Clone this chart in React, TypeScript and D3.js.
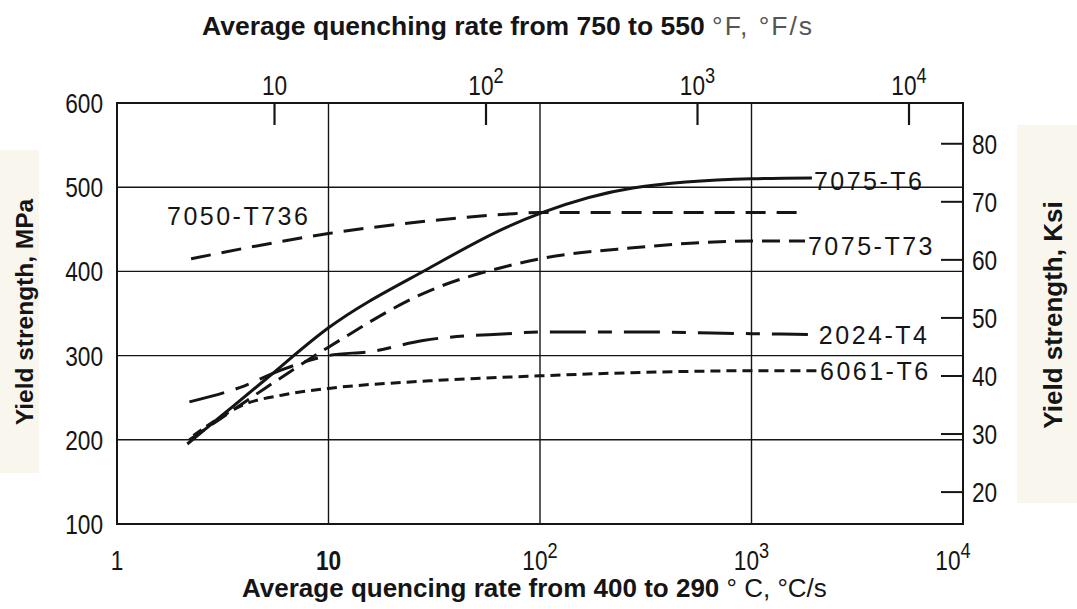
import { useEffect, useRef } from 'react'
import * as d3 from 'd3'

// quench rate, °C/s  ->  yield strength, MPa
const RATE_7075_T6 = [2.15, 3, 5, 10, 30, 69, 103, 275, 1000, 1930]
const YS_7075_T6 = [195, 225, 271, 333, 404, 452, 470, 499, 510, 511]

const RATE_7050_T736 = [2.24, 5, 10, 30, 69, 100, 300, 1000, 1670]
const YS_7050_T736 = [415, 432, 445, 460, 468, 470, 470, 470, 470]

const RATE_7075_T73 = [2.2, 3, 5, 10, 30, 72, 100, 275, 1000, 1790]
const YS_7075_T73 = [200, 223, 261, 310, 377, 407, 415, 428, 436, 436]

const RATE_2024_T4 = [2.2, 3.8, 6, 10, 16, 28, 70, 100, 300, 1000, 1950]
const YS_2024_T4 = [245, 262, 283, 300, 305, 318, 326, 328, 328, 326, 325]

const RATE_6061_T6 = [2.3, 3, 4, 6, 10, 30, 100, 300, 1000, 2040]
const YS_6061_T6 = [205, 225, 242, 253, 261, 270, 276, 280, 282, 282]

const MPA_TICKS = [100, 200, 300, 400, 500, 600]
const KSI_TICKS = [20, 30, 40, 50, 60, 70, 80]
const C_TICKS = [1, 10, 100, 1000, 10000]
const F_TICKS = [10, 100, 1000, 10000]
const GRID_MPA = [200, 300, 400, 500]
const GRID_C = [10, 100, 1000]

const SERIES = [
  { name: '7075-T6', rate: RATE_7075_T6, ys: YS_7075_T6, dash: null, label: 'end', dx: 2, dy: 12 },
  { name: '7050-T736', rate: RATE_7050_T736, ys: YS_7050_T736, dash: '20 11', label: 'top', dx: 0, dy: 0 },
  { name: '7075-T73', rate: RATE_7075_T73, ys: YS_7075_T73, dash: '18 9', label: 'end', dx: 3, dy: 14 },
  { name: '2024-T4', rate: RATE_2024_T4, ys: YS_2024_T4, dash: '36 12 14 12', label: 'end', dx: 6, dy: 9 },
  { name: '6061-T6', rate: RATE_6061_T6, ys: YS_6061_T6, dash: '10 6', label: 'end', dx: 3, dy: 9 },
]

const W = 1077
const H = 609
const L = 117
const R = 963
const T = 103
const B = 524
const SANS = '"Liberation Sans", Arial, sans-serif'
const INK = '#151515'
const SQUEEZE = 0.84

// text squeezed horizontally, to look like the narrow type of the scan
function narrow(parent, px, py, anchor = 'start') {
  return parent.append('text')
    .attr('transform', `translate(${px},${py}) scale(${SQUEEZE},1)`)
    .attr('text-anchor', anchor)
}

function powLabel(sel, v) {
  const e = Math.round(Math.log10(v))
  if (e === 0) sel.append('tspan').text('1')
  else if (e === 1) sel.append('tspan').text('10')
  else {
    sel.append('tspan').text('10')
    sel.append('tspan').attr('dy', -12).attr('font-size', '0.8em').text(String(e))
  }
}

export default function App() {
  const ref = useRef(null)

  useEffect(() => {
    const svg = d3.select(ref.current)
    svg.selectAll('*').remove()

    const x = d3.scaleLog().domain([1, 1e4]).range([L, R])
    const xF = d3.scaleLog().domain([1.8, 1.8e4]).range([L, R])
    const y = d3.scaleLinear().domain([100, 600]).range([B, T])
    const yK = d3.scaleLinear().domain([100 / 6.895, 600 / 6.895]).range([B, T])

    svg.append('rect').attr('width', W).attr('height', H).attr('fill', '#fff')
    svg.append('rect').attr('x', 0).attr('y', 150).attr('width', 39).attr('height', 323).attr('fill', '#f9f6ee')
    svg.append('rect').attr('x', 1017).attr('y', 125).attr('width', 60).attr('height', 378).attr('fill', '#f9f6ee')

    // grid
    const g = svg.append('g').attr('stroke', INK).attr('fill', 'none')
    g.selectAll('line.gy').data(GRID_MPA).enter().append('line')
      .attr('x1', L).attr('x2', R).attr('y1', (d) => y(d)).attr('y2', (d) => y(d)).attr('stroke-width', 1.4)
    g.selectAll('line.gx').data(GRID_C).enter().append('line')
      .attr('y1', T).attr('y2', B).attr('x1', (d) => x(d)).attr('x2', (d) => x(d)).attr('stroke-width', 1.4)
    g.append('rect').attr('x', L).attr('y', T).attr('width', R - L).attr('height', B - T).attr('stroke-width', 2)

    // top ticks (°F/s) and right ticks (ksi)
    g.selectAll('line.tf').data(F_TICKS).enter().append('line')
      .attr('x1', (d) => xF(d)).attr('x2', (d) => xF(d)).attr('y1', T).attr('y2', T + 22).attr('stroke-width', 2.2)
    g.selectAll('line.tk').data(KSI_TICKS).enter().append('line')
      .attr('x1', R - 22).attr('x2', R).attr('y1', (d) => yK(d)).attr('y2', (d) => yK(d)).attr('stroke-width', 2)

    // tick labels
    const txt = svg.append('g').attr('fill', INK).attr('font-family', SANS).attr('font-size', 27)
    MPA_TICKS.forEach((d) => narrow(txt, L - 14, y(d) + 10, 'end').text(d))
    KSI_TICKS.forEach((d) => narrow(txt, R + 9, yK(d) + 10).text(d))
    C_TICKS.forEach((d) => {
      const t = narrow(txt, x(d) - (d === 10000 ? 10 : 0), B + 46, 'middle')
      if (d === 10) t.attr('font-weight', 'bold')
      powLabel(t, d)
    })
    F_TICKS.forEach((d) => powLabel(narrow(txt, xF(d), T - 8, 'middle'), d))

    // curves
    const line = d3.line().x((d) => x(d[0])).y((d) => y(d[1])).curve(d3.curveMonotoneX)
    const cg = svg.append('g').attr('fill', 'none').attr('stroke', INK).attr('stroke-width', 3)
    SERIES.forEach((s) => {
      const pts = s.rate.map((r, i) => [r, s.ys[i]])
      const p = cg.append('path').attr('d', line(pts))
      if (s.dash) p.attr('stroke-dasharray', s.dash)
      const last = pts[pts.length - 1]
      const lx = s.label === 'end' ? x(last[0]) + s.dx : 167
      const ly = s.label === 'end' ? y(last[1]) + s.dy : y(pts[0][1]) - 34
      txt.append('text').attr('x', lx).attr('y', ly).attr('font-size', 25)
        .attr('letter-spacing', 2.5).text(s.name)
    })

    // axis titles
    const top = svg.append('text').attr('x', 202).attr('y', 35).attr('font-family', SANS).attr('font-size', 26.5).attr('fill', INK)
    top.append('tspan').attr('font-weight', 'bold').text('Average quenching rate from 750 to 550 ')
    top.append('tspan').attr('fill', '#555').attr('letter-spacing', 2).text('°F, °F/s')

    const bot = svg.append('text').attr('x', 242).attr('y', 597).attr('font-family', SANS).attr('font-size', 26).attr('fill', INK)
      .attr('font-weight', 'bold')
    bot.append('tspan').text('Average quencing rate from 400 to 290 ')
    bot.append('tspan').attr('font-weight', 'normal').text('° C, °C/s')

    svg.append('text').attr('transform', 'translate(33,312) rotate(-90)').attr('text-anchor', 'middle')
      .attr('font-family', SANS).attr('font-weight', 'bold').attr('font-size', 24.5).attr('fill', INK)
      .text('Yield strength, MPa')
    svg.append('text').attr('transform', 'translate(1062,315) rotate(-90)').attr('text-anchor', 'middle')
      .attr('font-family', SANS).attr('font-weight', 'bold').attr('font-size', 26).attr('fill', INK)
      .text('Yield strength, Ksi')
  }, [])

  return (
    <svg ref={ref} width={W} height={H} viewBox={`0 0 ${W} ${H}`}
      style={{ position: 'absolute', left: 0, top: 0, display: 'block' }} />
  )
}
